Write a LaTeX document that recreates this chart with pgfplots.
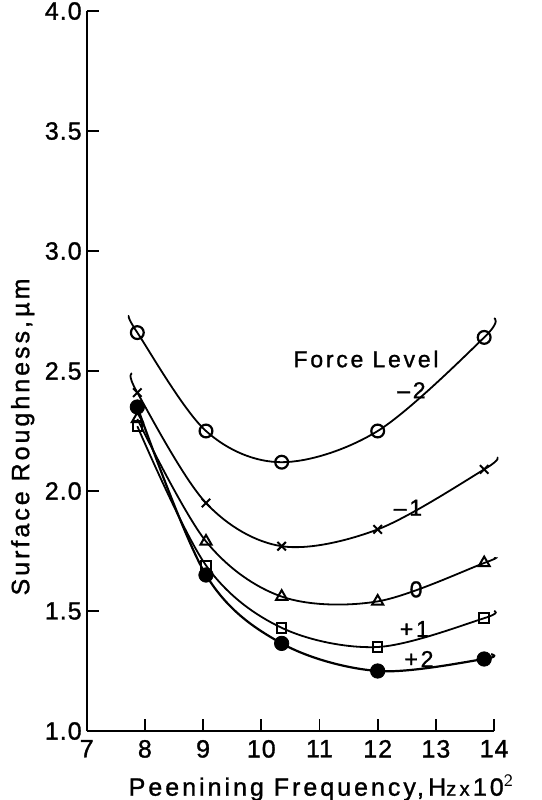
\documentclass[border=0pt]{standalone}
\usepackage{pgfplots}
\pgfplotsset{compat=1.18}
\usepackage{fontspec}
\setmainfont{Liberation Sans}
\newfontfamily\spaced[LetterSpace=12, FakeBold=1.2]{Liberation Sans}
\newfontfamily\tickfont[LetterSpace=4, FakeBold=1.2]{Liberation Sans}
\begin{document}
\begin{tikzpicture}
\path[use as bounding box] (-43.35pt,-34.5pt) rectangle (227.65pt,365.5pt);
\begin{axis}[
  at={(0,0)}, anchor=south west,
  scale only axis, width=203.7pt, height=360pt,
  xmin=7, xmax=14, ymin=1, ymax=4,
  axis x line*=bottom, axis y line*=left,
  axis line style={line width=1pt},
  tick align=inside, major tick length=6pt,
  tick style={line width=0.9pt, black},
  xtick={7,...,14}, ytick={1,1.5,...,4},
  /pgf/number format/assume math mode=true,
  ticklabel style={font=\tickfont\fontsize{12.5}{14}\selectfont},
  xticklabel style={yshift=-1pt},
  yticklabel style={xshift=1pt, /pgf/number format/.cd, fixed, fixed zerofill, precision=1},
  clip=false,
]
% Force level -2
\addplot[smooth, tension=0.55, line width=0.9pt] coordinates {
(7.73,2.73) (7.87,2.66) (9.05,2.25) (10.35,2.12) (12.0,2.25) (13.83,2.64) (14.0,2.72)};
\addplot[only marks, mark=o, mark size=3.2pt, line width=1.1pt] coordinates {
(7.87,2.66) (9.05,2.25) (10.35,2.12) (12.0,2.25) (13.83,2.64)};
% Force level -1
\addplot[smooth, tension=0.55, line width=0.9pt] coordinates {
(7.78,2.49) (7.87,2.41) (9.05,1.95) (10.35,1.77) (12.0,1.84) (13.83,2.09) (14.05,2.14)};
\addplot[only marks, mark=x, mark size=3pt, line width=1pt] coordinates {
(7.87,2.41) (9.05,1.95) (10.35,1.77) (12.0,1.84) (13.83,2.09)};
% Force level 0
\addplot[smooth, tension=0.55, line width=0.9pt] coordinates {
(7.87,2.30) (9.05,1.79) (10.35,1.56) (12.0,1.54) (13.83,1.70) (14.0,1.72)};
\addplot[only marks, mark=triangle, mark size=3.2pt, line width=1pt] coordinates {
(7.87,2.30) (9.05,1.79) (10.35,1.56) (12.0,1.54) (13.83,1.70)};
% Force level +1
\addplot[smooth, tension=0.55, line width=0.9pt] coordinates {
(7.87,2.27) (9.05,1.69) (10.35,1.43) (12.0,1.35) (13.83,1.47) (14.0,1.50)};
\addplot[only marks, mark=square, mark size=2.4pt, line width=1pt] coordinates {
(7.87,2.27) (9.05,1.69) (10.35,1.43) (12.0,1.35) (13.83,1.47)};
% Force level +2
\addplot[smooth, tension=0.55, line width=1.1pt] coordinates {
(7.87,2.35) (9.05,1.65) (10.35,1.365) (12.0,1.25) (13.83,1.30) (13.95,1.32)};
\addplot[only marks, mark=*, mark size=3.6pt] coordinates {
(7.87,2.35) (9.05,1.65) (10.35,1.365) (12.0,1.25) (13.83,1.30)};

\begin{scope}[font=\spaced\fontsize{11.5}{13}\selectfont]
\node at (axis cs:11.8,2.55) {Force Level};
\node at (axis cs:12.58,2.42) {–2};
\node at (axis cs:12.52,1.93) {–1};
\node at (axis cs:12.66,1.59) {0};
\node at (axis cs:12.63,1.425) {+1};
\node at (axis cs:12.71,1.30) {+2};
\node at (axis cs:11.03,0.7625) {\fontsize{12.5}{14}\selectfont Peenining Frequency,\,H{\fontsize{10}{11}\selectfont z\,x\,}10$^{\mathsf{2}}$};
\node[rotate=90] at (axis cs:5.90,2.225) {\fontsize{12.5}{14}\selectfont Surface Roughness,\,µm};
\end{scope}
\end{axis}
\end{tikzpicture}
\end{document}
